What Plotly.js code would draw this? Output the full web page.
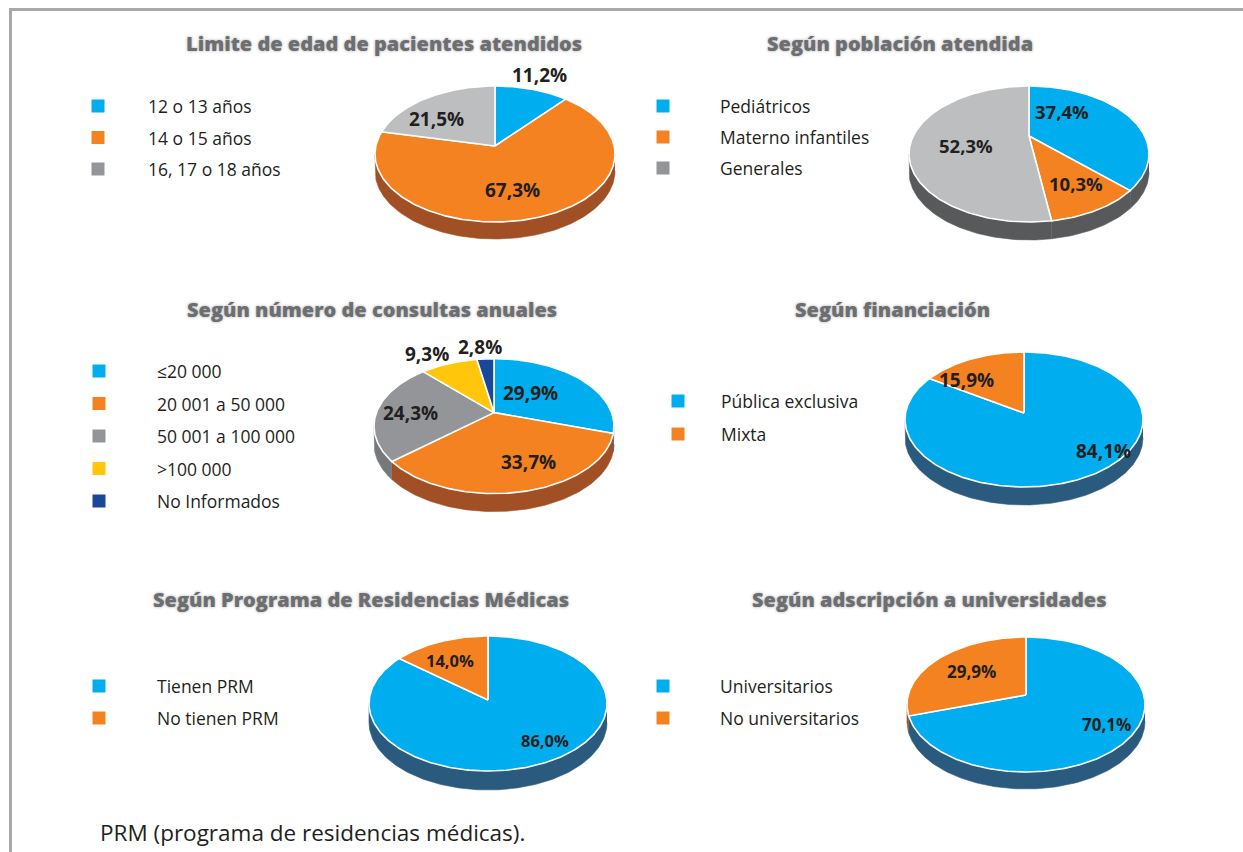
<!DOCTYPE html>
<html><head><meta charset="utf-8">
<script src="https://cdn.plot.ly/plotly-3.0.1.min.js"></script>
<style>html,body{margin:0;padding:0;background:#fff;overflow:hidden}</style>
</head><body><div id="chart" style="width:1243px;height:852px"></div>
<script>
// ---------------- DATA ----------------
const chartTitles = [
  'Limite de edad de pacientes atendidos',
  'Según población atendida',
  'Según número de consultas anuales',
  'Según financiación',
  'Según Programa de Residencias Médicas',
  'Según adscripción a universidades'
];
const edadLabels = ['12 o 13 años', '14 o 15 años', '16, 17 o 18 años'];
const edadValues = [11.2, 67.3, 21.5];
const poblacionLabels = ['Pediátricos', 'Materno infantiles', 'Generales'];
const poblacionValues = [37.4, 10.3, 52.3];
const consultasLabels = ['≤20 000', '20 001 a 50 000', '50 001 a 100 000', '>100 000', 'No Informados'];
const consultasValues = [29.9, 33.7, 24.3, 9.3, 2.8];
const financiacionLabels = ['Pública exclusiva', 'Mixta'];
const financiacionValues = [84.1, 15.9];
const prmLabels = ['Tienen PRM', 'No tienen PRM'];
const prmValues = [86.0, 14.0];
const univLabels = ['Universitarios', 'No universitarios'];
const univValues = [70.1, 29.9];
const footnote = 'PRM (programa de residencias médicas).';

// ---------------- STYLE ----------------
const BLUE = '#00ADEE', ORANGE = '#F58220', LGRAY = '#BCBEC0', MGRAY = '#939598',
      YELLOW = '#FFC60B', DBLUE = '#1B479B';
const RIM_BLUE = '#2A5B7E', RIM_ORANGE = '#A14F24', RIM_DGRAY = '#58595B',
      RIM_MGRAY = '#77787B', RIM_YELLOW = '#A07F00', RIM_DBLUE = '#0F2B5E';
const TEXT = '#231F20';

const charts = [
  {title: chartTitles[0], labels: edadLabels, values: edadValues,
   colors: [BLUE, ORANGE, LGRAY], rims: [RIM_BLUE, RIM_ORANGE, RIM_DGRAY], legColors: [BLUE, ORANGE, MGRAY],
   titleX: 384, titleY: 43, legX: 98, legTextX: 146, legY0: 106, legStep: 31.5,
   cx: 495, ay: 146, hw: 120, a: 60, b: 76, depth: 17,
   lblOff: [-0.5, 6, -11.6], lblK: [1.28, 0.62, 0.67], lblSize: 19},
  {title: chartTitles[1], labels: poblacionLabels, values: poblacionValues,
   colors: [BLUE, ORANGE, LGRAY], rims: [RIM_DGRAY, RIM_DGRAY, RIM_DGRAY], legColors: [BLUE, ORANGE, MGRAY],
   titleX: 900, titleY: 43, legX: 663, legTextX: 718, legY0: 106, legStep: 31,
   cx: 1029, ay: 136, hw: 120, a: 50, b: 86, depth: 18,
   lblOff: [-31, -1.4, -10.8], lblK: [0.54, 0.71, 0.54], lblSize: 18.5},
  {title: chartTitles[2], labels: consultasLabels, values: consultasValues,
   colors: [BLUE, ORANGE, MGRAY, YELLOW, DBLUE], rims: [RIM_BLUE, RIM_ORANGE, RIM_MGRAY, RIM_YELLOW, RIM_DBLUE],
   legColors: [BLUE, ORANGE, MGRAY, YELLOW, DBLUE],
   titleX: 372, titleY: 309, legX: 99, legTextX: 155, legY0: 371, legStep: 32.5,
   cx: 494, ay: 412.6, hw: 120, a: 54, b: 81, depth: 18,
   lblOff: [-8.5, -9.4, -2.7, -5.5, -1.5], lblK: [0.46, 0.71, 0.71, 1.31, 1.29], lblSize: 19},
  {title: chartTitles[3], labels: financiacionLabels, values: financiacionValues,
   colors: [BLUE, ORANGE], rims: [RIM_BLUE, RIM_ORANGE], legColors: [BLUE, ORANGE],
   titleX: 892, titleY: 309, legX: 678, legTextX: 719, legY0: 401, legStep: 33,
   cx: 1024, ay: 413, hw: 119, a: 61, b: 74, depth: 18,
   lblOff: [-21, -15.7], lblK: [0.84, 0.73], lblSize: 19},
  {title: chartTitles[4], labels: prmLabels, values: prmValues,
   colors: [BLUE, ORANGE], rims: [RIM_BLUE, RIM_ORANGE], legColors: [BLUE, ORANGE],
   titleX: 361, titleY: 599, legX: 99, legTextX: 155, legY0: 686, legStep: 32,
   cx: 488, ay: 700, hw: 119, a: 64, b: 71, depth: 19,
   lblOff: [-13.5, -3.1], lblK: [0.74, 0.69], lblSize: 16.5},
  {title: chartTitles[5], labels: univLabels, values: univValues,
   colors: [BLUE, ORANGE], rims: [RIM_BLUE, RIM_ORANGE], legColors: [BLUE, ORANGE],
   titleX: 929, titleY: 599, legX: 663, legTextX: 718, legY0: 686, legStep: 32,
   cx: 1026, ay: 695, hw: 119, a: 58, b: 77, depth: 17,
   lblOff: [-3.3, 1.5], lblK: [0.77, 0.62], lblSize: 17}
];

// ---------------- BUILD ----------------
const traces = [];
const annotations = [];
const rad = d => d * Math.PI / 180;
const fmt = v => v.toFixed(1).replace('.', ',') + '%';

charts.forEach(c => {
  const D = (c.b + c.a) / (c.b - c.a);
  const ry = c.a * (D + 1) / D;
  const R = c.hw * Math.sqrt(D * D - 1) / D;
  const proj = (thetaDeg, k) => {
    const u = k * Math.sin(rad(thetaDeg)), v = -k * Math.cos(rad(thetaDeg));
    const s = D / (D - v);
    return [c.cx + R * u * s, c.ay + ry * v * s];
  };
  let thR = 90, thL = 270, maxX = -1e9, minX = 1e9;
  for (let t = 0; t < 360; t += 0.25) {
    const p = proj(t, 1);
    if (p[0] > maxX) { maxX = p[0]; thR = t; }
    if (p[0] < minX) { minX = p[0]; thL = t; }
  }
  const total = c.values.reduce((s, v) => s + v, 0);
  let cum = 0;
  const slices = c.values.map(v => {
    const t0 = cum / total * 360; cum += v; const t1 = cum / total * 360;
    return [t0, t1];
  });
  const arc = (t0, t1, dy) => {
    const xs = [], ys = [];
    const n = Math.max(2, Math.ceil((t1 - t0) / 1));
    for (let i = 0; i <= n; i++) {
      const p = proj(t0 + (t1 - t0) * i / n, 1);
      xs.push(p[0]); ys.push(p[1] + dy);
    }
    return [xs, ys];
  };
  // side bands (front of the disc)
  slices.forEach((s, i) => {
    const lo = Math.max(s[0], thR), hi = Math.min(s[1], thL);
    if (hi <= lo) return;
    const top = arc(lo, hi, 0), bot = arc(lo, hi, c.depth);
    const xs = top[0].concat(bot[0].slice().reverse());
    const ys = top[1].concat(bot[1].slice().reverse());
    traces.push({type: 'scatter', mode: 'lines', x: xs, y: ys, fill: 'toself',
      fillcolor: c.rims[i], line: {color: c.rims[i], width: 0.6},
      hoverinfo: 'skip', showlegend: false});
  });
  // top faces
  slices.forEach((s, i) => {
    const a = arc(s[0], s[1], 0);
    const xs = [c.cx].concat(a[0], [c.cx]);
    const ys = [c.ay].concat(a[1], [c.ay]);
    traces.push({type: 'scatter', mode: 'lines', x: xs, y: ys, fill: 'toself',
      fillcolor: c.colors[i], line: {color: '#ffffff', width: 1.6},
      name: c.labels[i], hoverinfo: 'name', showlegend: false});
  });
  // value labels
  slices.forEach((s, i) => {
    const mid = (s[0] + s[1]) / 2 + c.lblOff[i];
    const p = proj(mid, c.lblK[i]);
    annotations.push({x: p[0], y: p[1], xref: 'x', yref: 'y', text: fmt(c.values[i]),
      showarrow: false, xanchor: 'center', yanchor: 'middle',
      font: {family: 'Open Sans', size: c.lblSize, color: TEXT, weight: 700}});
  });
  // legend
  const ly = c.labels.map((_, i) => c.legY0 + i * c.legStep);
  traces.push({type: 'scatter', mode: 'markers', x: c.labels.map(() => c.legX), y: ly,
    marker: {symbol: 'square', size: 13, color: c.legColors, line: {width: 0}},
    hoverinfo: 'skip', showlegend: false});
  c.labels.forEach((l, i) => {
    annotations.push({x: c.legTextX, y: ly[i], xref: 'x', yref: 'y', text: l, showarrow: false,
      xanchor: 'left', yanchor: 'middle',
      font: {family: 'Open Sans', size: 17.5, color: TEXT}});
  });
  // title
  annotations.push({x: c.titleX, y: c.titleY, xref: 'x', yref: 'y', text: c.title, showarrow: false,
    xanchor: 'center', yanchor: 'middle',
    font: {family: 'Open Sans', size: 20, color: '#6D6E71', weight: 800,
           shadow: '0px 0px 3px rgba(80,80,80,0.5)'}});
});

annotations.push({x: 98, y: 832, xref: 'x', yref: 'y', text: footnote, showarrow: false,
  xanchor: 'left', yanchor: 'middle', font: {family: 'Open Sans', size: 22.5, color: TEXT}});

const layout = {
  width: 1243, height: 852, autosize: false,
  margin: {l: 0, r: 0, t: 0, b: 0},
  paper_bgcolor: '#ffffff', plot_bgcolor: '#ffffff',
  xaxis: {range: [0, 1243], visible: false, fixedrange: true},
  yaxis: {range: [852, 0], visible: false, fixedrange: true},
  showlegend: false,
  annotations: annotations,
  shapes: [
    {type: 'line', xref: 'x', yref: 'y', x0: 10.5, x1: 10.5, y0: 8, y1: 852, line: {color: '#A7A9AC', width: 3}},
    {type: 'line', xref: 'x', yref: 'y', x0: 9, x1: 1243, y0: 9.5, y1: 9.5, line: {color: '#A7A9AC', width: 3}}
  ]
};
Plotly.newPlot('chart', traces, layout, {staticPlot: true, displayModeBar: false});
</script></body></html>
